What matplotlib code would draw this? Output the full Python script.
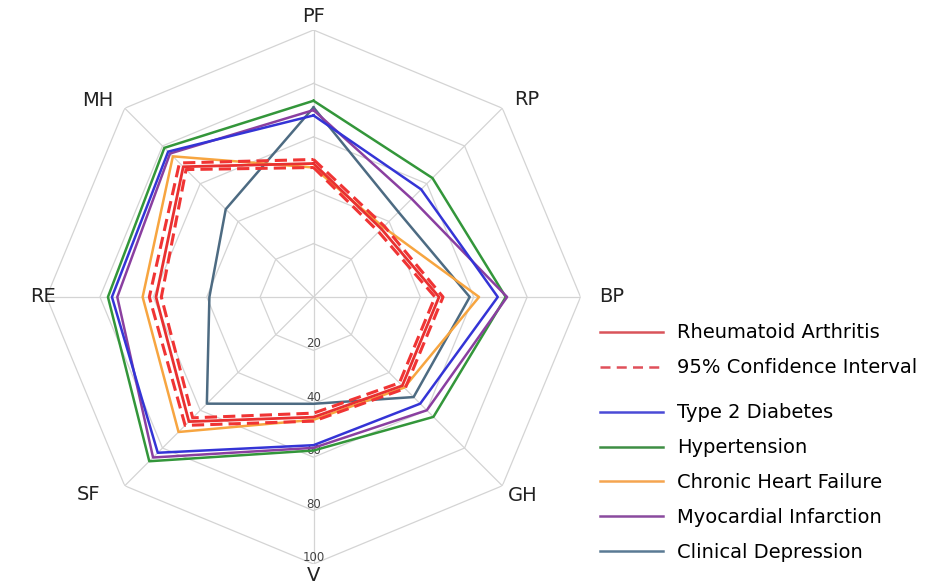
import numpy as np
import matplotlib
matplotlib.use('Agg')
import matplotlib.pyplot as plt

# Axes of the radar (clockwise from top)
domains = ['PF', 'RP', 'BP', 'GH', 'V', 'SF', 'RE', 'MH']

# Scores (0-100)
ra = [50, 36, 47, 47, 45, 66, 59, 69]
ra_upper = [51.5, 37.5, 48.5, 48.5, 46.5, 68, 61.5, 71]
ra_lower = [48.5, 34.5, 45.5, 45.5, 43.5, 64, 57, 67.5]
diabetes = [68, 57, 69, 56.5, 55.5, 82.5, 75.5, 77]
hypertension = [73.5, 63, 72, 63.5, 57.5, 87, 77, 79]
heart_failure = [48.5, 37, 62, 48, 46, 71.5, 64, 74.5]
infarction = [70, 52, 72.5, 60, 56.5, 85, 73.5, 76]
depression = [71, 45, 58.5, 53, 40, 56.5, 39, 46.5]

rings = [20, 40, 60, 80, 100]


def closed(vals):
    return list(vals) + [vals[0]]


angles = np.linspace(0, 2 * np.pi, len(domains), endpoint=False)
theta = closed(angles)

fig = plt.figure(figsize=(9.25, 5.88), dpi=100)
ax = fig.add_axes([0.0503, 0.0408, 0.5773, 0.9082], projection='polar')
ax.set_theta_offset(np.pi / 2)
ax.set_theta_direction(-1)
ax.set_ylim(0, 100)
ax.grid(False)
ax.spines['polar'].set_visible(False)
ax.set_xticks([])
ax.set_yticks([])

# octagonal grid
grid_col = '#d4d4d4'
for r in rings:
    ax.plot(theta, [r] * len(theta), color=grid_col, lw=0.9, zorder=1)
for a in angles:
    ax.plot([a, a], [0, 100], color=grid_col, lw=0.9, zorder=1)

# tick labels along the V axis
for r in rings:
    ax.text(np.pi, r, str(r), ha='center', va='bottom', fontsize=8.5,
            color='#444444', zorder=2)

# domain labels: (angle in degrees clockwise from top, radius)
label_pos = [(0, 104.9), (47.3, 108.8), (90, 111.5), (133.4, 108),
             (180, 104.3), (228.7, 112), (270, 101.5), (312.4, 109.3)]
for (deg, rad), name in zip(label_pos, domains):
    ax.text(np.deg2rad(deg), rad, name, ha='center', va='center',
            fontsize=14, color='#222222', clip_on=False)

ax.plot(theta, closed(depression), color='#4d6b82', lw=1.8, zorder=3)
ax.plot(theta, closed(heart_failure), color='#f7a540', lw=1.8, zorder=3)
ax.plot(theta, closed(infarction), color='#8a3fa0', lw=1.8, zorder=4)
ax.plot(theta, closed(diabetes), color='#3434d6', lw=1.8, zorder=4)
ax.plot(theta, closed(hypertension), color='#33963a', lw=1.8, zorder=3)
ax.plot(theta, closed(ra_upper), color='#f03434', lw=2.2, ls=(0, (4, 2)), zorder=5)
ax.plot(theta, closed(ra_lower), color='#f03434', lw=2.2, ls=(0, (4, 2)), zorder=5)
ax.plot(theta, closed(ra), color='#e83030', lw=2, zorder=5)

# legend (two groups with a gap between them)
leg_kw = dict(frameon=False, fontsize=14, handlelength=3.24, handletextpad=0.72,
              labelspacing=0.82, borderpad=0, borderaxespad=0, loc='upper left')
h1 = [plt.Line2D([], [], color='#d9545a', lw=1.8),
      plt.Line2D([], [], color='#e0505a', lw=1.8, ls=(0, (4, 2.5)))]
l1 = ['Rheumatoid Arthritis', '95% Confidence Interval']
fig.legend(h1, l1, bbox_to_anchor=(0.6486, 0.450), **leg_kw)

h2 = [plt.Line2D([], [], color=c, lw=1.8) for c in
      ['#4a4ad6', '#3e8e44', '#f5a550', '#8a4a9e', '#5a7a94']]
l2 = ['Type 2 Diabetes', 'Hypertension', 'Chronic Heart Failure',
      'Myocardial Infarction', 'Clinical Depression']
fig.legend(h2, l2, bbox_to_anchor=(0.6486, 0.314), **leg_kw)

fig.savefig('out.png', dpi=100)
